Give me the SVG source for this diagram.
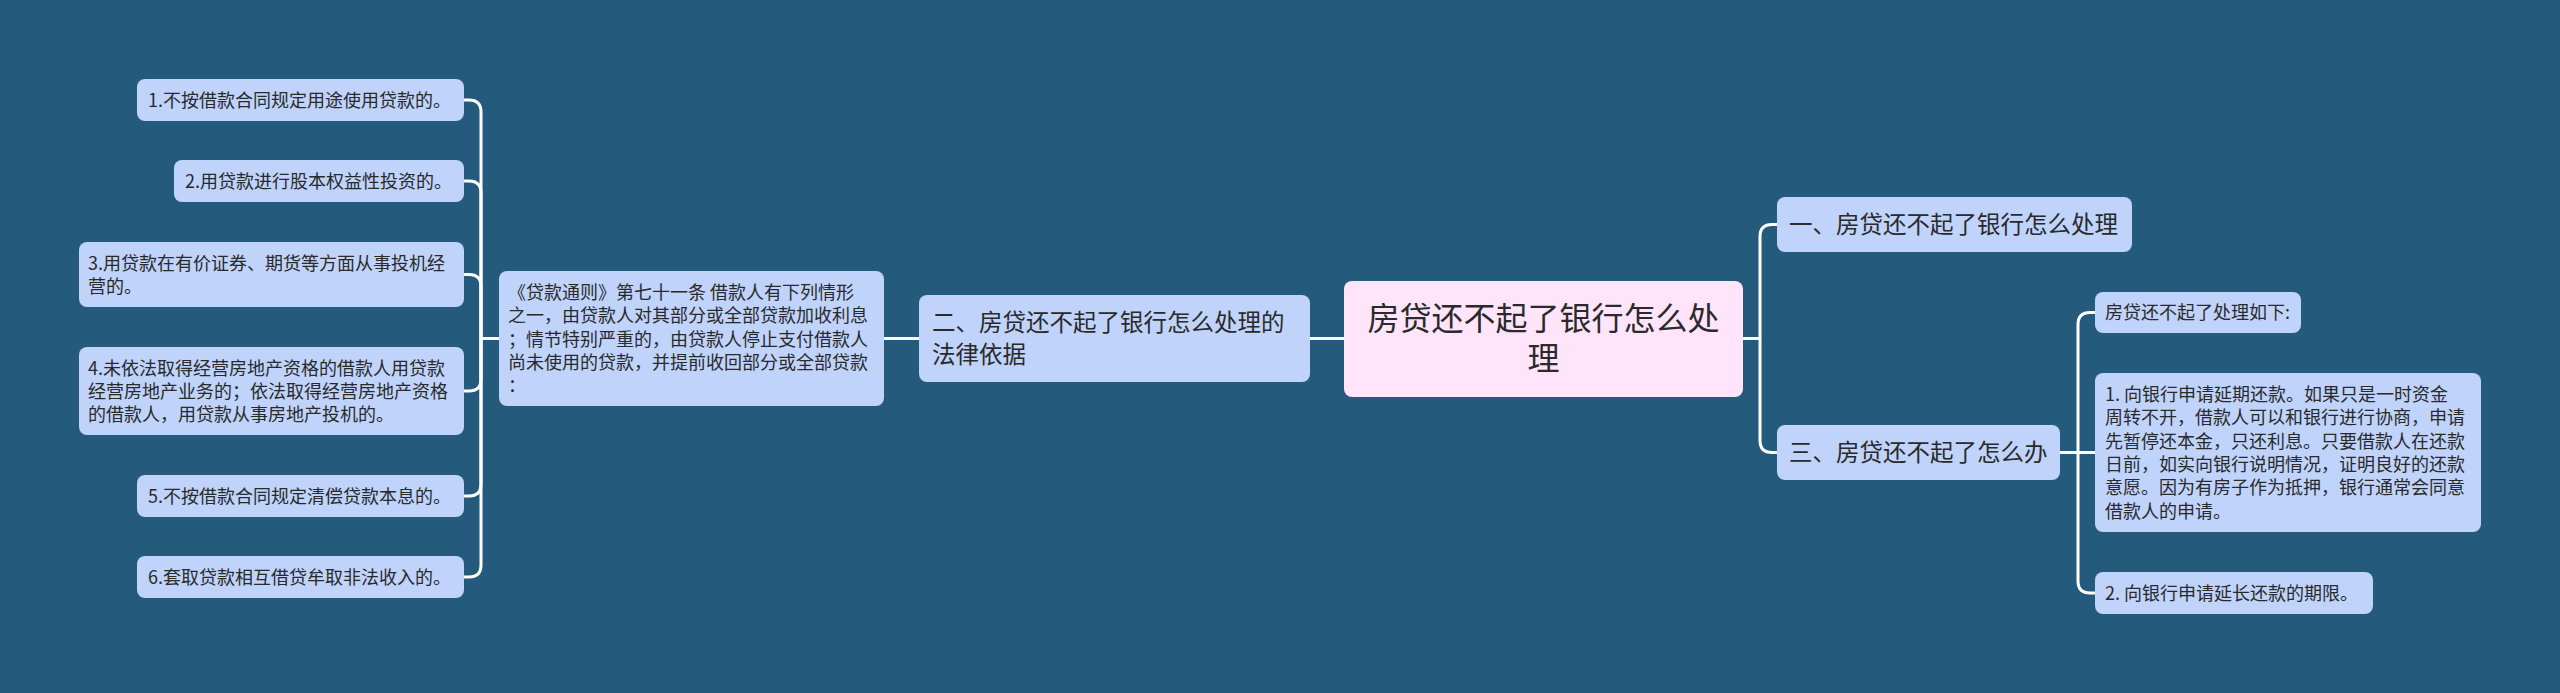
<svg xmlns="http://www.w3.org/2000/svg" width="2560" height="693" viewBox="0 0 2560 693">
<style>
.bg{fill:#245a7c}
.n{fill:#bfd3fb}
.c{fill:#ffe4fa}
.t{font-family:"Noto Sans CJK SC","Noto Sans",sans-serif;fill:#2a2a2a}
.s{font-size:18px}
.m{font-size:23.5px}
.l{font-size:32px}
.e{fill:none;stroke:#ffffff;stroke-width:3;stroke-linejoin:round}
</style>
<rect class="bg" x="0" y="0" width="2560" height="693"/>
<g id="connectors">
<path class="e" d="M499,338.5 H481 V112 Q481,100 469,100 H464"/>
<path class="e" d="M481,338.5 V193 Q481,181 469,181 H464"/>
<path class="e" d="M481,338.5 V286.5 Q481,274.5 469,274.5 H464"/>
<path class="e" d="M481,338.5 V379 Q481,391 469,391 H464"/>
<path class="e" d="M481,338.5 V484 Q481,496 469,496 H464"/>
<path class="e" d="M481,338.5 V565 Q481,577 469,577 H464"/>
<path class="e" d="M884,338.5 H919"/>
<path class="e" d="M1310,338.5 H1344"/>
<path class="e" d="M1743,338.5 H1760 V236.5 Q1760,224.5 1772,224.5 H1777"/>
<path class="e" d="M1760,338.5 V440.5 Q1760,452.5 1772,452.5 H1777"/>
<path class="e" d="M2060,452.5 H2095"/>
<path class="e" d="M2078,452.5 V324.5 Q2078,312.5 2090,312.5 H2095"/>
<path class="e" d="M2078,452.5 V581 Q2078,593 2090,593 H2095"/>
</g>
<g id="root">
<rect class="c" x="1344" y="281" width="399" height="116" rx="8"/>
<text class="t l" text-anchor="middle"><tspan x="1543.5" y="330">房贷还不起了银行怎么处</tspan><tspan x="1543.5" y="370">理</tspan></text>
</g>
<g id="n-er">
<rect class="n" x="919" y="295" width="391" height="87" rx="8"/>
<text class="t m"><tspan x="932" y="331">二、房贷还不起了银行怎么处理的</tspan><tspan x="932" y="363">法律依据</tspan></text>
</g>
<g id="n-tongze">
<rect class="n" x="499" y="271" width="385" height="135" rx="8"/>
<text class="t s"><tspan x="508" y="299">《贷款通则》第七十一条 借款人有下列情形</tspan><tspan x="508" y="322">之一，由贷款人对其部分或全部贷款加收利息</tspan><tspan x="508" y="345.5">；情节特别严重的，由贷款人停止支付借款人</tspan><tspan x="508" y="368.5">尚未使用的贷款，并提前收回部分或全部贷款</tspan><tspan x="508" y="392">：</tspan></text>
</g>
<g id="n-l1">
<rect class="n" x="137" y="79" width="327" height="42" rx="8"/>
<text class="t s" x="148" y="106.8">1.不按借款合同规定用途使用贷款的。</text>
</g>
<g id="n-l2">
<rect class="n" x="174" y="160" width="290" height="42" rx="8"/>
<text class="t s" x="185" y="187.8">2.用贷款进行股本权益性投资的。</text>
</g>
<g id="n-l3">
<rect class="n" x="79" y="242" width="385" height="65" rx="8"/>
<text class="t s"><tspan x="88" y="269.6">3.用贷款在有价证券、期货等方面从事投机经</tspan><tspan x="88" y="292.9">营的。</tspan></text>
</g>
<g id="n-l4">
<rect class="n" x="79" y="347" width="385" height="88" rx="8"/>
<text class="t s"><tspan x="88" y="374.5">4.未依法取得经营房地产资格的借款人用贷款</tspan><tspan x="88" y="397.8">经营房地产业务的；依法取得经营房地产资格</tspan><tspan x="88" y="421.1">的借款人，用贷款从事房地产投机的。</tspan></text>
</g>
<g id="n-l5">
<rect class="n" x="137" y="475" width="327" height="42" rx="8"/>
<text class="t s" x="148" y="502.8">5.不按借款合同规定清偿贷款本息的。</text>
</g>
<g id="n-l6">
<rect class="n" x="137" y="556" width="327" height="42" rx="8"/>
<text class="t s" x="148" y="583.8">6.套取贷款相互借贷牟取非法收入的。</text>
</g>
<g id="n-yi">
<rect class="n" x="1777" y="197" width="355" height="55" rx="8"/>
<text class="t m" x="1789" y="233.4">一、房贷还不起了银行怎么处理</text>
</g>
<g id="n-san">
<rect class="n" x="1777" y="425" width="283" height="55" rx="8"/>
<text class="t m" x="1789" y="461.4">三、房贷还不起了怎么办</text>
</g>
<g id="n-r0">
<rect class="n" x="2095" y="292" width="206" height="41" rx="8"/>
<text class="t s" x="2105" y="319.3">房贷还不起了处理如下:</text>
</g>
<g id="n-r1">
<rect class="n" x="2095" y="373" width="386" height="159" rx="8"/>
<text class="t s"><tspan x="2105" y="401">1. 向银行申请延期还款。如果只是一时资金</tspan><tspan x="2105" y="424.4">周转不开，借款人可以和银行进行协商，申请</tspan><tspan x="2105" y="447.7">先暂停还本金，只还利息。只要借款人在还款</tspan><tspan x="2105" y="471">日前，如实向银行说明情况，证明良好的还款</tspan><tspan x="2105" y="494.3">意愿。因为有房子作为抵押，银行通常会同意</tspan><tspan x="2105" y="517.6">借款人的申请。</tspan></text>
</g>
<g id="n-r2">
<rect class="n" x="2095" y="572" width="278" height="42" rx="8"/>
<text class="t s" x="2105" y="599.8">2. 向银行申请延长还款的期限。</text>
</g>
</svg>
